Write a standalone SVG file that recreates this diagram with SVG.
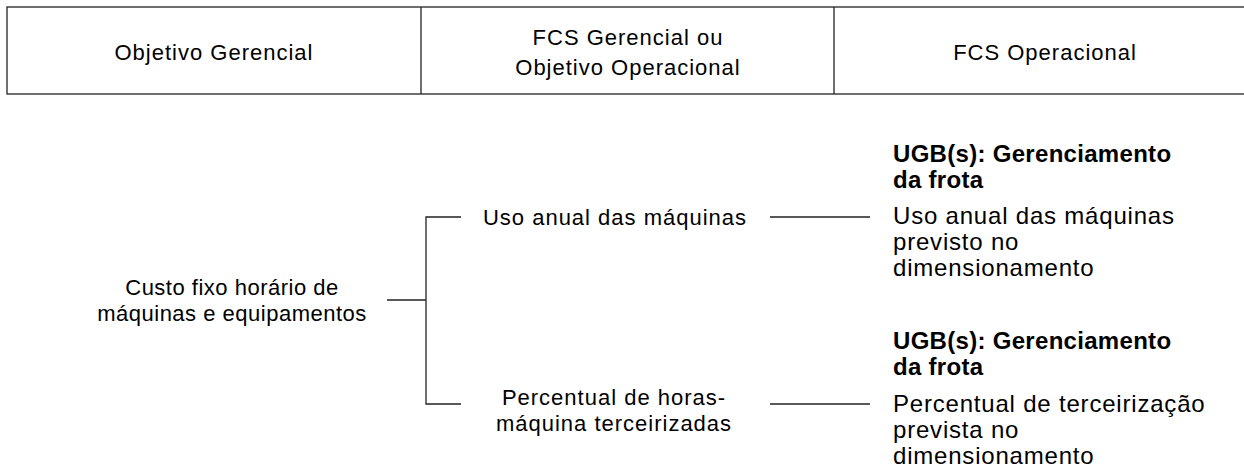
<svg xmlns="http://www.w3.org/2000/svg" width="1244" height="471" viewBox="0 0 1244 471">
<style>
text{font-family:"Liberation Sans",Arial,sans-serif;fill:#000;}
.c{font-size:22px;letter-spacing:1px;text-anchor:middle;}
.t{letter-spacing:0.5px;}
.r{font-size:24px;letter-spacing:0.8px;}
.b{font-weight:bold;letter-spacing:0.3px;}
.ln{stroke:#222;stroke-width:1.3;fill:none;}
</style>
<rect width="1244" height="471" fill="#fff"/>
<g id="header">
<rect class="ln" x="7" y="7" width="1250" height="87"/>
<line class="ln" x1="421" y1="7" x2="421" y2="94"/>
<line class="ln" x1="834" y1="7" x2="834" y2="94"/>
<text class="c" x="214" y="60">Objetivo Gerencial</text>
<text class="c" x="628" y="45">FCS Gerencial ou</text>
<text class="c" x="628" y="75">Objetivo Operacional</text>
<text class="c" x="1045" y="60">FCS Operacional</text>
</g>
<g id="connectors">
<path class="ln" d="M387 300H426M461 217H426V404H461"/>
<line class="ln" x1="770" y1="217" x2="870" y2="217"/>
<line class="ln" x1="770" y1="404" x2="870" y2="404"/>
</g>
<g id="node-custo">
<text class="c t" x="232" y="295">Custo fixo horário de</text>
<text class="c t" x="232" y="321">máquinas e equipamentos</text>
</g>
<g id="node-uso">
<text class="c" x="615" y="225">Uso anual das máquinas</text>
</g>
<g id="node-percentual">
<text class="c" x="614" y="405">Percentual de horas-</text>
<text class="c" x="614" y="431">máquina terceirizadas</text>
</g>
<g id="node-fcs1">
<text class="r b" x="893" y="162">UGB(s): Gerenciamento</text>
<text class="r b" x="893" y="188">da frota</text>
<text class="r" x="893" y="224">Uso anual das máquinas</text>
<text class="r" x="893" y="250">previsto no</text>
<text class="r" x="893" y="276">dimensionamento</text>
</g>
<g id="node-fcs2">
<text class="r b" x="893" y="349">UGB(s): Gerenciamento</text>
<text class="r b" x="893" y="375">da frota</text>
<text class="r" x="893" y="412">Percentual de terceirização</text>
<text class="r" x="893" y="438">prevista no</text>
<text class="r" x="893" y="464">dimensionamento</text>
</g>
</svg>
